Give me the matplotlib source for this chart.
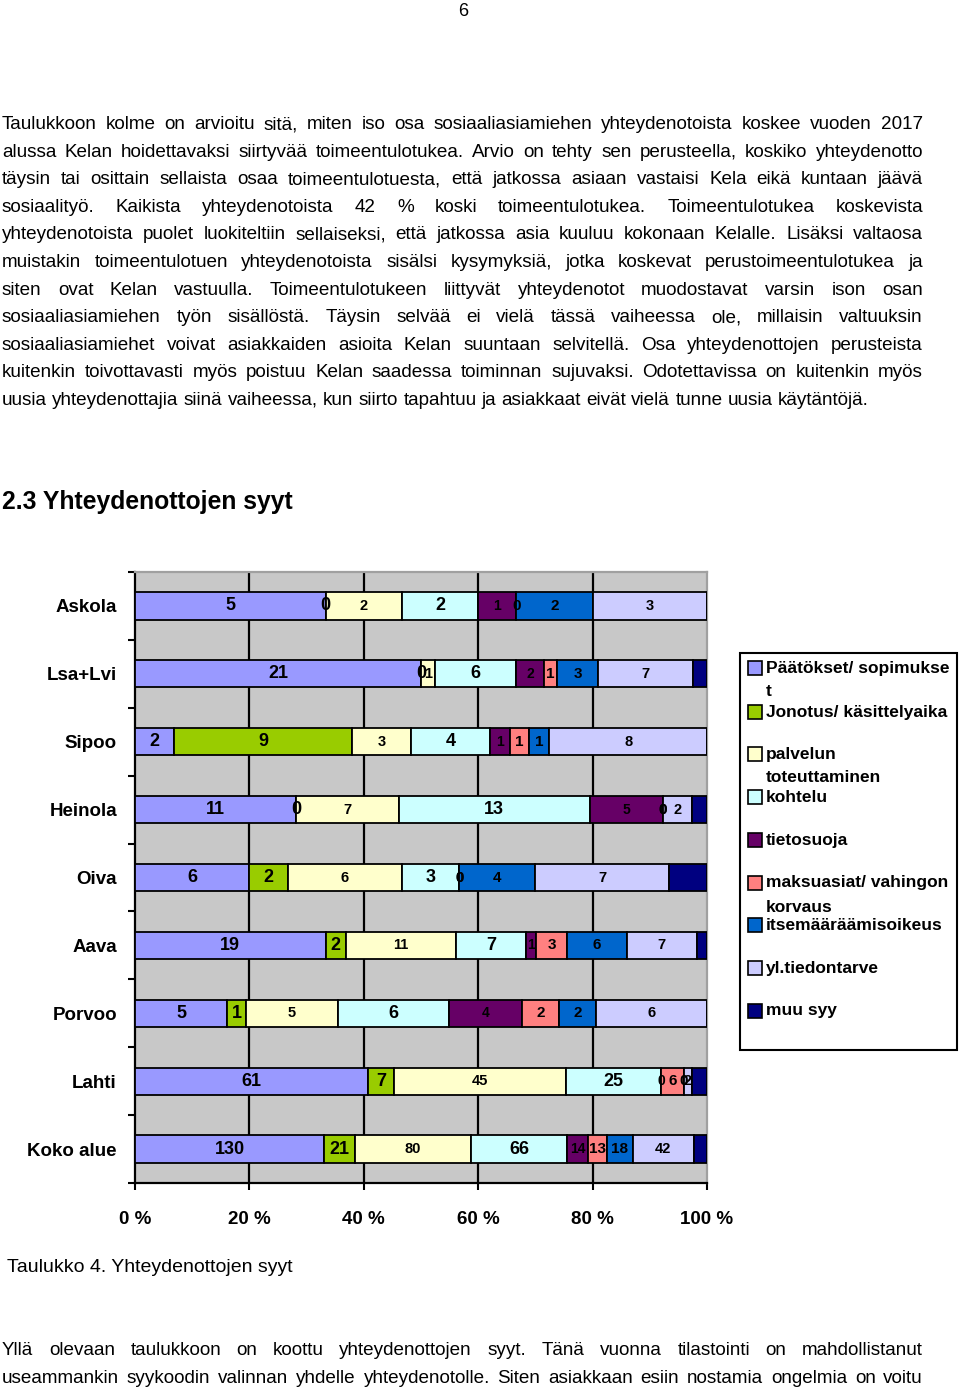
import numpy as np
import matplotlib.pyplot as plt
from matplotlib.patches import Rectangle

plt.rcParams['font.family'] = ['Liberation Sans', 'DejaVu Sans']

W, H = 960, 1387

# data (counts per municipality and reason)
places = ["Askola", "Lsa+Lvi", "Sipoo", "Heinola", "Oiva", "Aava", "Porvoo", "Lahti", "Koko alue"]
paatokset = [5, 21, 2, 11, 6, 19, 5, 61, 130]
jonotus = [0, 0, 9, 0, 2, 2, 1, 7, 21]
palvelun = [2, 1, 3, 7, 6, 11, 5, 45, 80]
kohtelu = [2, 6, 4, 13, 3, 7, 6, 25, 66]
tietosuoja = [1, 2, 1, 5, 0, 1, 4, 0, 14]
maksuasiat = [0, 1, 1, 0, 0, 3, 2, 6, 13]
itsemaar = [2, 3, 1, 0, 4, 6, 2, 0, 18]
yltiedontarve = [3, 7, 8, 2, 7, 7, 6, 2, 42]
muu = [0, 1, 0, 1, 2, 1, 0, 4, 9]

legend_lines = [["Päätökset/ sopimukse", "t"], ["Jonotus/ käsittelyaika"],
                ["palvelun", "toteuttaminen"], ["kohtelu"], ["tietosuoja"],
                ["maksuasiat/ vahingon", "korvaus"], ["itsemääräämisoikeus"],
                ["yl.tiedontarve"], ["muu syy"]]
colors = ["#9999FF", "#99CC00", "#FFFFCC", "#CCFFFF", "#660066",
          "#FF8080", "#0066CC", "#CCCCFF", "#000080"]
label_sizes = [13, 13, 10.5, 13, 10, 11, 11, 10.5, 10]
xticks = [0, 20, 40, 60, 80, 100]

para1 = [
    "Taulukkoon kolme on arvioitu sitä, miten iso osa sosiaaliasiamiehen yhteydenotoista koskee vuoden 2017",
    "alussa Kelan hoidettavaksi siirtyvää toimeentulotukea. Arvio on tehty sen perusteella, koskiko yhteydenotto",
    "täysin tai osittain sellaista osaa toimeentulotuesta, että jatkossa asiaan vastaisi Kela eikä kuntaan jäävä",
    "sosiaalityö. Kaikista yhteydenotoista 42 % koski toimeentulotukea. Toimeentulotukea koskevista",
    "yhteydenotoista puolet luokiteltiin sellaiseksi, että jatkossa asia kuuluu kokonaan Kelalle. Lisäksi valtaosa",
    "muistakin toimeentulotuen yhteydenotoista sisälsi kysymyksiä, jotka koskevat perustoimeentulotukea ja",
    "siten ovat Kelan vastuulla. Toimeentulotukeen liittyvät yhteydenotot muodostavat varsin ison osan",
    "sosiaaliasiamiehen työn sisällöstä. Täysin selvää ei vielä tässä vaiheessa ole, millaisin valtuuksin",
    "sosiaaliasiamiehet voivat asiakkaiden asioita Kelan suuntaan selvitellä. Osa yhteydenottojen perusteista",
    "kuitenkin toivottavasti myös poistuu Kelan saadessa toiminnan sujuvaksi. Odotettavissa on kuitenkin myös",
    "uusia yhteydenottajia siinä vaiheessa, kun siirto tapahtuu ja asiakkaat eivät vielä tunne uusia käytäntöjä.",
]
para2 = [
    "Yllä olevaan taulukkoon on koottu yhteydenottojen syyt. Tänä vuonna tilastointi on mahdollistanut",
    "useammankin syykoodin valinnan yhdelle yhteydenotolle. Siten asiakkaan esiin nostamia ongelmia on voitu",
]

fig = plt.figure(figsize=(W / 100, H / 100), dpi=100)
renderer = fig.canvas.get_renderer()

body_size = 13.6


def fx(x):
    return x / W


def fy(y):
    return 1 - y / H


def text_line(s, y, x0=2, x1=923, size=body_size, justify=True):
    words = s.split(" ")
    ts = [fig.text(0, 0, w, fontsize=size, va="baseline", ha="left") for w in words]
    widths = [t.get_window_extent(renderer).width for t in ts]
    if justify and len(words) > 1:
        gap = (x1 - x0 - sum(widths)) / (len(words) - 1)
    else:
        gap = size * 100 / 72 * 0.278
    x = x0
    for t, w in zip(ts, widths):
        t.set_position((fx(x), fy(y)))
        x += w + gap


fig.text(fx(463), fy(16), "6", fontsize=13, ha="center", va="baseline")
for i, line in enumerate(para1):
    text_line(line, 129 + i * 27.6, justify=(i < len(para1) - 1))
for i, line in enumerate(para2):
    text_line(line, 1355 + i * 27.6)

fig.text(fx(2), fy(509), "2.3 Yhteydenottojen syyt", fontsize=17.8,
         fontweight="bold", va="baseline")
fig.text(fx(7), fy(1272), "Taulukko 4. Yhteydenottojen syyt", fontsize=14,
         va="baseline")

# chart
ax = fig.add_axes([fx(135), fy(1183), (707 - 135) / W, (1183 - 572) / H])
ax.set_facecolor("#C8C8C8")

series = [paatokset, jonotus, palvelun, kohtelu, tietosuoja,
          maksuasiat, itsemaar, yltiedontarve, muu]
counts = np.array(series, dtype=float)
totals = counts.sum(axis=0)
pct = counts / totals * 100
ypos = np.arange(len(places))
left = np.zeros(len(places))
for k in range(len(series)):
    ax.barh(ypos, pct[k], left=left, height=0.4, color=colors[k],
            edgecolor="black", linewidth=1.3, zorder=3)
    # labels of the last series are black on navy and do not show
    if k < len(series) - 1:
        for j in range(len(places)):
            ax.text(left[j] + pct[k][j] / 2, ypos[j], str(series[k][j]),
                    ha="center", va="center", fontsize=label_sizes[k],
                    fontweight="bold", color="black", zorder=4)
    left += pct[k]

for g in xticks[1:-1]:
    ax.axvline(g, color="black", lw=1.6, zorder=1)

ax.set_xlim(0, 100)
ax.set_ylim(len(places) - 0.5, -0.5)
ax.set_xticks(xticks)
ax.set_xticklabels([f"{t} %" for t in xticks], fontsize=13.5, fontweight="bold")
ax.set_yticks(ypos)
ax.set_yticklabels(places, fontsize=13.5, fontweight="bold")
ax.set_yticks(np.arange(-0.5, len(places)), minor=True)
ax.tick_params(axis="y", which="major", length=0, pad=13)
ax.tick_params(axis="y", which="minor", length=5, width=1.5, direction="out")
ax.tick_params(axis="x", length=5, width=1.5, direction="out", pad=15)
for side in ["left", "bottom"]:
    ax.spines[side].set_color("black")
    ax.spines[side].set_linewidth(1.6)
for side in ["top", "right"]:
    ax.spines[side].set_color("#A0A0A0")
    ax.spines[side].set_linewidth(1.6)

# legend box
fig.patches.append(Rectangle((fx(740), fy(1050)), (957 - 740) / W, (1050 - 653) / H,
                             transform=fig.transFigure, fill=False,
                             edgecolor="black", lw=1.5))
entry_y = [668, 712, 754, 797, 840, 883, 925, 968, 1011]
for k, lines in enumerate(legend_lines):
    y = entry_y[k]
    fig.patches.append(Rectangle((fx(748), fy(y + 7)), 14 / W, 14 / H,
                                 transform=fig.transFigure, facecolor=colors[k],
                                 edgecolor="black", lw=1.2))
    for m, s in enumerate(lines):
        fig.text(fx(766), fy(y + m * 24), s, fontsize=12.5, fontweight="bold",
                 va="center", ha="left")

fig.savefig("out.png", dpi=100, facecolor="white")
